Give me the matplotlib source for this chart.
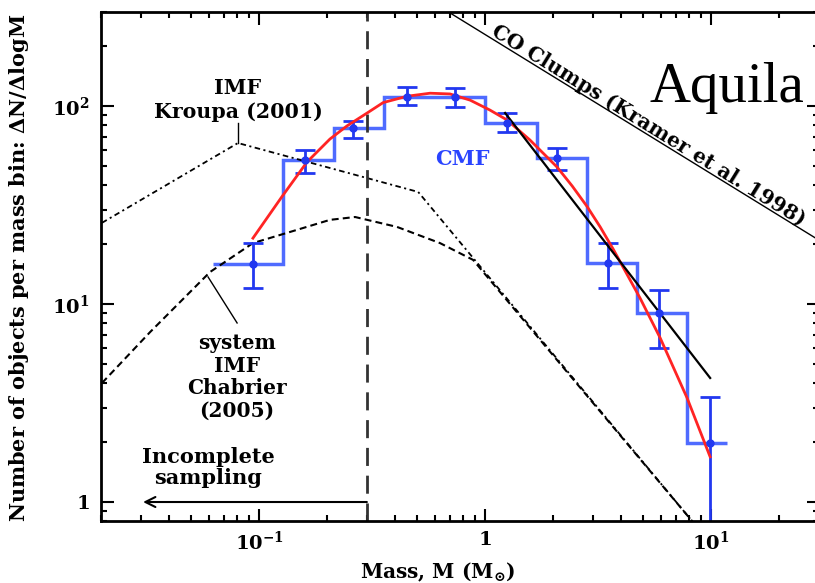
import numpy as np
import matplotlib
matplotlib.use('Agg')
from matplotlib import pyplot as plt
from matplotlib.ticker import NullFormatter, LogLocator

plt.rcParams['font.family'] = ['DejaVu Serif']
plt.rcParams['font.weight'] = 'bold'
plt.rcParams['axes.labelweight'] = 'bold'
plt.rcParams['mathtext.fontset'] = 'dejavuserif'
plt.rcParams['lines.scale_dashes'] = False

# CMF histogram (Aquila)
binEdges = [0.0626, 0.128, 0.215, 0.357, 0.577, 1.0, 1.70, 2.83, 4.71, 7.83, 11.8]
binMass = [0.094, 0.160, 0.260, 0.452, 0.737, 1.25, 2.08, 3.50, 5.89, 9.9]
binCounts = [15.9, 53.4, 77.4, 111, 111, 82, 54.6, 16.1, 9.0, 1.99]
errLow = [12.0, 45.8, 68.9, 101, 98.9, 73.9, 47.5, 12.0, 6.0, 0.3]
errHigh = [20.3, 60.0, 84.2, 125, 123, 92.2, 61.0, 20.3, 11.8, 3.39]

# lognormal fit (red curve)
fitMass = [0.094, 0.126, 0.163, 0.206, 0.245, 0.301, 0.354, 0.452, 0.571, 0.700,
           0.859, 1.05, 1.25, 1.58, 2.08, 2.43, 2.83, 3.23, 3.69, 4.85, 5.95, 7.83, 9.9]
fitN = [21.5, 34.7, 52.1, 68.1, 79.3, 92.2, 104, 112, 116, 115,
        107, 95.4, 85, 67.3, 49.2, 39.4, 31.0, 24.5, 18.9, 10.7, 6.74, 3.35, 1.69]

# power-law fit to the high-mass end
powMass = [1.226, 9.9]
powN = [92.2, 4.23]

# Kroupa (2001) IMF
kroupaMass = [0.0202, 0.0807, 0.506, 8.32]
kroupaN = [25.7, 65.0, 36.8, 0.79]

# Chabrier (2005) system IMF
chabMass = [0.0202, 0.0330, 0.0607, 0.094, 0.137, 0.206, 0.266, 0.408, 0.632, 0.885, 8.32]
chabN = [3.99, 7.22, 14.5, 20.3, 23.1, 26.6, 27.5, 24.5, 20.3, 16.7, 0.79]

# CO clumps (Kramer et al. 1998)
coMass = [0.70, 30]
coN = [295, 21]

completeLimit = 0.3
arrowEnd = 0.0307

binCounts = np.array(binCounts)
yerr = [binCounts - np.array(errLow), np.array(errHigh) - binCounts]

fig = plt.figure(figsize=(8.15, 5.83), dpi=100)
ax = fig.add_axes([101/815, 61.8/583, 718/815, 509.7/583])
ax.set_xscale('log')
ax.set_yscale('log')
ax.set_xlim(0.02, 30)
ax.set_ylim(0.8, 300)

ax.plot(kroupaMass, kroupaN, color='black', lw=1.3, dashes=(4, 2.5, 1.5, 2.5))
ax.plot(chabMass, chabN, color='black', lw=1.5, dashes=(5, 3))
ax.plot(coMass, coN, color='black', lw=1.0)
ax.axvline(completeLimit, color='#333333', lw=2, dashes=(13, 7))

ax.stairs(binCounts, binEdges, baseline=None, color='#4f6bff', lw=2.5)
ax.errorbar(binMass, binCounts, yerr=yerr, fmt='o', ms=5, color='#2238f0',
            elinewidth=2, capsize=7, capthick=2)
ax.plot(fitMass, fitN, color='#ff2424', lw=2)
ax.plot(powMass, powN, color='black', lw=1.6)

# annotations
ax.text(0.0807, 107, 'IMF\nKroupa (2001)', ha='center', va='center', fontsize=14.8, linespacing=1.25)
ax.plot([0.0807, 0.0807], [82, 65], color='black', lw=1)
ax.text(0.0799, 4.28, 'system\nIMF\nChabrier\n(2005)', ha='center', va='center', fontsize=14.5, linespacing=1.15)
ax.plot([0.0595, 0.080], [13.7, 8.02], color='black', lw=1)
ax.text(0.0595, 1.49, 'Incomplete\nsampling', ha='center', va='center', fontsize=15, linespacing=1.05)
ax.annotate('', xy=(arrowEnd, 1), xytext=(completeLimit, 1),
            arrowprops=dict(arrowstyle='->', lw=1.5, color='black', mutation_scale=18, shrinkA=0, shrinkB=0))
ax.text(0.791, 54, 'CMF', ha='center', va='center', fontsize=15, color='#2a44ff')
ax.text(5.26, 80, 'CO Clumps (Kramer et al. 1998)', ha='center', va='center', fontsize=14.5,
        rotation=-31.7, rotation_mode='anchor')

ax.set_xticks([0.1, 1, 10], labels=[r'$\mathbf{10^{-1}}$', r'$\mathbf{1}$', r'$\mathbf{10^{1}}$'])
ax.set_yticks([1, 10, 100], labels=[r'$\mathbf{1}$', r'$\mathbf{10^{1}}$', r'$\mathbf{10^{2}}$'])
ax.xaxis.set_minor_locator(LogLocator(subs=np.arange(2, 10)))
ax.yaxis.set_minor_locator(LogLocator(subs=np.arange(2, 10)))
ax.xaxis.set_minor_formatter(NullFormatter())
ax.yaxis.set_minor_formatter(NullFormatter())
ax.tick_params(which='both', direction='in', top=True, right=True, width=1.5, labelsize=14)
ax.tick_params(which='major', length=9)
ax.tick_params(which='minor', length=4.5)
ax.tick_params(axis='x', pad=7)
ax.tick_params(axis='y', pad=8)
for sp in ax.spines.values():
    sp.set_linewidth(2)

ax.set_xlabel(r'Mass, M (M$_{\mathbf{\odot}}$)', fontsize=14.5)
ax.set_ylabel('Number of objects per mass bin: $\\mathbf{\\Delta}$N/$\\mathbf{\\Delta}$logM', fontsize=15)
ax.xaxis.set_label_coords(0.469, -0.077)
ax.yaxis.set_label_coords(-0.097, 0.497)

fig.text(650/815, 1 - 102/583, 'Aquila', family='Liberation Serif', fontweight='normal',
         fontsize=41, va='baseline', ha='left')

fig.savefig('out.png', dpi=100)
